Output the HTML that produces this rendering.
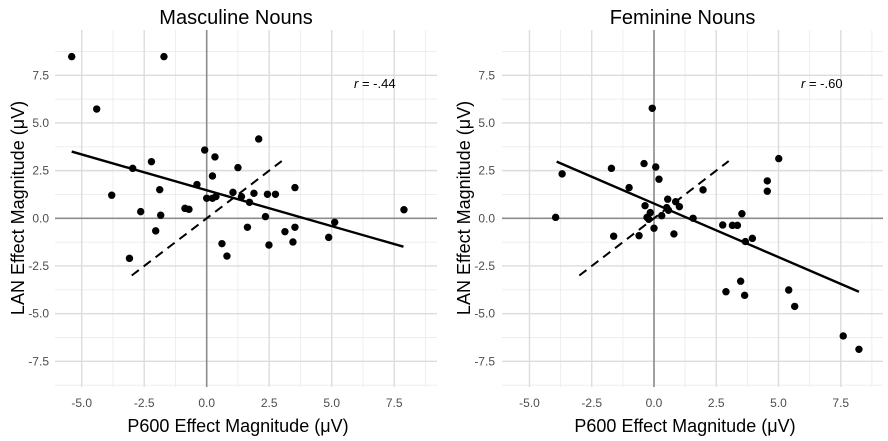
<!DOCTYPE html>
<html><head><meta charset="utf-8">
<style>
html,body{margin:0;padding:0;background:#fff;}
svg{display:block;font-family:"Liberation Sans",Arial,sans-serif;}
</style></head>
<body>
<svg id="chart" width="888" height="441" viewBox="0 0 888 441"></svg>
<script>
// Masculine nouns data
const mascX = [-5.40,-1.71,-4.40,2.08,-0.08,0.33,1.25,-2.21,-2.96,0.23,-0.39,3.53,-1.88,-3.80,1.05,0.00,0.23,0.37,1.39,1.89,2.43,2.75,1.71,-0.87,-0.71,-2.64,-1.84,2.35,7.89,5.12,-2.04,1.63,3.13,3.53,4.88,3.45,0.61,2.49,-3.09,0.81];
const mascY = [8.48,8.48,5.73,4.16,3.58,3.22,2.66,2.97,2.62,2.22,1.77,1.61,1.50,1.21,1.36,1.05,1.05,1.14,1.14,1.31,1.26,1.26,0.84,0.52,0.47,0.35,0.16,0.09,0.45,-0.21,-0.66,-0.47,-0.70,-0.47,-1.00,-1.24,-1.33,-1.40,-2.10,-1.98];
const mascFitX = [-5.40,7.87];
const mascFitY = [3.50,-1.49];
// Feminine nouns data
const femX = [-0.07,5.01,0.07,-0.40,-1.71,-3.69,0.20,4.55,4.55,-1.00,1.97,0.55,0.87,1.02,-0.36,0.51,0.58,-0.15,0.31,-0.28,-0.21,-3.95,1.57,3.53,2.76,3.15,3.35,0.00,0.80,-0.60,-1.62,3.95,3.67,3.48,2.89,3.64,5.41,5.65,7.60,8.23];
const femY = [5.77,3.13,2.69,2.87,2.62,2.33,2.05,1.96,1.42,1.61,1.49,1.00,0.87,0.61,0.66,0.56,0.42,0.30,0.14,0.05,-0.05,0.05,0.00,0.24,-0.35,-0.37,-0.37,-0.52,-0.82,-0.91,-0.94,-1.05,-1.22,-3.30,-3.85,-4.04,-3.76,-4.62,-6.17,-6.87];
const femFitX = [-3.91,8.23];
const femFitY = [2.97,-3.85];
const identX = [-3,3];
const identY = [-3,3];
const xTicks = [-5,-2.5,0,2.5,5,7.5];
const yTicks = [-7.5,-5,-2.5,0,2.5,5,7.5];
const xTickLabels = ["-5.0","-2.5","0.0","2.5","5.0","7.5"];
const yTickLabels = ["-7.5","-5.0","-2.5","0.0","2.5","5.0","7.5"];

const NS="http://www.w3.org/2000/svg";
const svg=document.getElementById('chart');
function mk(tag,attrs,parent){const e=document.createElementNS(NS,tag);for(const k in attrs)e.setAttribute(k,attrs[k]);(parent||svg).appendChild(e);return e;}

function panel(cfg){
  const g=mk('g',{});
  
  
  const sx=v=>cfg.x0+cfg.kx*v;
  const sy=v=>218.3-19.07*v;
  const L=cfg.left,R=cfg.right,T=30,B=387;
  for(let v=-8.75;v<=10;v+=2.5){const y=sy(v);if(y>=T&&y<=B){const l=mk('line',{x1:L,x2:R,y1:y,y2:y,stroke:'#ececec','stroke-width':0.9},g);}}
  for(let v=-6.25;v<=10;v+=2.5){const x=sx(v);if(x>=L&&x<=R){const l=mk('line',{x1:x,x2:x,y1:T,y2:B,stroke:'#ececec','stroke-width':0.9},g);}}
  yTicks.forEach((v,i)=>{const y=sy(v);const l=mk('line',{x1:L,x2:R,y1:y,y2:y,stroke:'#dcdcdc','stroke-width':1.4},g);
    const t=mk('text',{x:cfg.yLabX,y:y+4,'text-anchor':'end','font-size':12,fill:'#4d4d4d'},g);t.textContent=yTickLabels[i];});
  xTicks.forEach((v,i)=>{const x=sx(v);const l=mk('line',{x1:x,x2:x,y1:T,y2:B,stroke:'#dcdcdc','stroke-width':1.4},g);
    const t=mk('text',{x:x,y:407,'text-anchor':'middle','font-size':12,fill:'#4d4d4d'},g);t.textContent=xTickLabels[i];});
  let a=mk('line',{x1:L,x2:R,y1:sy(0),y2:sy(0),stroke:'#8c8c8c','stroke-width':1.6},g);
  a=mk('line',{x1:sx(0),x2:sx(0),y1:T,y2:B,stroke:'#8c8c8c','stroke-width':1.6},g);
  a=mk('line',{x1:sx(identX[0]),y1:sy(identY[0]),x2:sx(identX[1]),y2:sy(identY[1]),stroke:'#000','stroke-width':2,'stroke-dasharray':'9,6'},g);
  cfg.xs.forEach((xv,i)=>{const c=mk('circle',{cx:sx(xv),cy:sy(cfg.ys[i]),r:3.7,fill:'#000'},g);});
  a=mk('line',{x1:sx(cfg.fx[0]),y1:sy(cfg.fy[0]),x2:sx(cfg.fx[1]),y2:sy(cfg.fy[1]),stroke:'#000','stroke-width':2.4},g);
  const rt=mk('text',{x:cfg.rX,y:88,'font-size':13,fill:'#000'},g);
  const ri=mk('tspan',{'font-style':'italic'},rt);ri.textContent='r';
  const rv=mk('tspan',{},rt);rv.textContent=' = '+cfg.r;
  let t=mk('text',{x:(L+R)/2-10,y:24,'text-anchor':'middle','font-size':20,fill:'#000'},g);t.textContent=cfg.title;
  t=mk('text',{x:cfg.xtX,y:432,'text-anchor':'middle','font-size':18,fill:'#000'},g);t.textContent='P600 Effect Magnitude (μV)';
  t=mk('text',{x:0,y:0,'text-anchor':'middle','font-size':18,fill:'#000',transform:`translate(${cfg.ytX},${208}) rotate(-90)`},g);t.textContent='LAN Effect Magnitude (μV)';
}
panel({name:'masculine-panel',title:'Masculine Nouns',xs:mascX,ys:mascY,fx:mascFitX,fy:mascFitY,x0:206.7,kx:25,left:55,right:437,yLabX:49,rX:354,r:'-.44',xtX:238,ytX:24});
panel({name:'feminine-panel',title:'Feminine Nouns',xs:femX,ys:femY,fx:femFitX,fy:femFitY,x0:654,kx:24.9,left:502,right:883,yLabX:495,rX:801,r:'-.60',xtX:685,ytX:470});
</script>
</body></html>
